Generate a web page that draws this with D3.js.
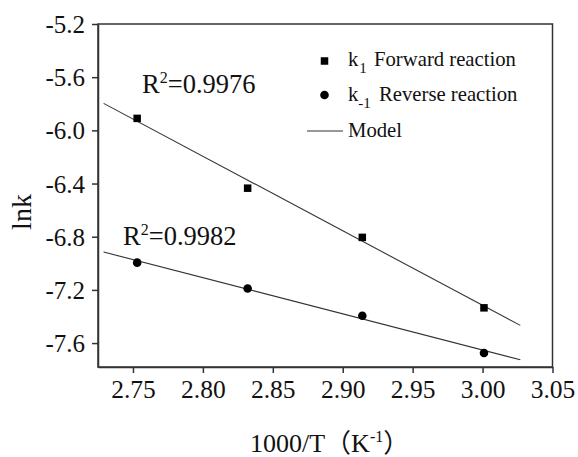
<!DOCTYPE html>
<html>
<head>
<meta charset="utf-8">
<script src="https://cdn.jsdelivr.net/npm/d3@7"></script>
<style>
  html, body { margin: 0; padding: 0; background: #fff; }
  svg { display: block; }
</style>
</head>
<body>
<svg id="chart" width="578" height="457"></svg>
<script>
// ---- data ----
const xValues = [2.753, 2.832, 2.914, 3.001];
const forwardLnk = [-5.91, -6.435, -6.805, -7.335];
const reverseLnk = [-6.995, -7.19, -7.395, -7.675];
const fitX = [2.729, 3.027];
const forwardFit = [-5.797, -7.467];
const reverseFit = [-6.915, -7.726];
const xTicks = [2.75, 2.80, 2.85, 2.90, 2.95, 3.00, 3.05];
const yTicks = [-5.2, -5.6, -6.0, -6.4, -6.8, -7.2, -7.6];
const legendLabels = ["Forward reaction", "Reverse reaction", "Model"];
const r2Labels = ["0.9976", "0.9982"];

// ---- layout ----
const FONT = "'Liberation Serif', 'Times New Roman', Times, 'Noto Sans CJK SC', serif";
const svg = d3.select("#chart").style("font-family", FONT);
const plotL = 98, plotR = 552.5, plotT = 24, plotB = 367;
const x = d3.scaleLinear().domain([2.725, 3.05]).range([plotL, plotR]);
const y = d3.scaleLinear().domain([-7.78, -5.2]).range([plotB, plotT]);
const axisColor = "#333";

// frame
svg.append("rect")
  .attr("x", plotL).attr("y", plotT)
  .attr("width", plotR - plotL).attr("height", plotB - plotT)
  .attr("fill", "none").attr("stroke", axisColor).attr("stroke-width", 1.5);

// x axis
const xAxis = svg.append("g")
  .attr("transform", `translate(0,${plotB})`)
  .call(d3.axisBottom(x).tickValues(xTicks).tickSize(6).tickSizeOuter(0)
        .tickFormat(d => d.toFixed(2)));
xAxis.attr("font-family", FONT).attr("font-size", 25);
xAxis.select(".domain").attr("stroke", axisColor).attr("stroke-width", 1.5);
xAxis.selectAll(".tick line").attr("stroke", axisColor).attr("stroke-width", 1.5);
xAxis.selectAll(".tick text")
  .attr("y", 31).attr("dy", null)
  .attr("fill", "#111")
  .style("font-family", FONT)
  .style("font-size", "25.5px");

// y axis
const yAxis = svg.append("g")
  .attr("transform", `translate(${plotL},0)`)
  .call(d3.axisLeft(y).tickValues(yTicks).tickSize(6).tickSizeOuter(0)
        .tickFormat(d => d.toFixed(1).replace("\u2212", "-")));
yAxis.attr("font-family", FONT).attr("font-size", 25);
yAxis.select(".domain").attr("stroke", axisColor).attr("stroke-width", 1.5);
yAxis.selectAll(".tick line").attr("stroke", axisColor).attr("stroke-width", 1.5);
yAxis.selectAll(".tick text")
  .attr("x", -13).attr("dy", "0.34em")
  .attr("fill", "#111")
  .style("font-family", FONT)
  .style("font-size", "25px");

// fit lines
const line = d3.line().x(d => x(d[0])).y(d => y(d[1]));
[forwardFit, reverseFit].forEach(fit => {
  svg.append("path")
    .datum(fitX.map((v, i) => [v, fit[i]]))
    .attr("d", line)
    .attr("fill", "none")
    .attr("stroke", "#333")
    .attr("stroke-width", 1.1);
});

// points
const sq = 7.5;
svg.append("g").selectAll("rect")
  .data(xValues.map((v, i) => [v, forwardLnk[i]]))
  .join("rect")
  .attr("x", d => x(d[0]) - sq / 2).attr("y", d => y(d[1]) - sq / 2)
  .attr("width", sq).attr("height", sq).attr("fill", "#000");
svg.append("g").selectAll("circle")
  .data(xValues.map((v, i) => [v, reverseLnk[i]]))
  .join("circle")
  .attr("cx", d => x(d[0])).attr("cy", d => y(d[1]))
  .attr("r", 4.3).attr("fill", "#000");

function txt(xp, yp, size) {
  return svg.append("text").attr("x", xp).attr("y", yp)
    .style("font-family", FONT).style("font-size", size + "px").attr("fill", "#111");
}

// R^2 annotations
function r2(xp, yp, val) {
  const t = txt(xp, yp, 26.5);
  t.append("tspan").text("R");
  t.append("tspan").attr("dy", -10).style("font-size", "16px").text("2");
  t.append("tspan").attr("dy", 10).text("=" + val);
}
r2(142, 93, r2Labels[0]);
r2(123, 245, r2Labels[1]);

// legend
svg.append("rect").attr("x", 324.5 - sq / 2).attr("y", 61 - sq / 2)
  .attr("width", sq).attr("height", sq).attr("fill", "#000");
svg.append("circle").attr("cx", 324.5).attr("cy", 95).attr("r", 4.3).attr("fill", "#000");
svg.append("line").attr("x1", 307).attr("x2", 343).attr("y1", 131).attr("y2", 131)
  .attr("stroke", "#333").attr("stroke-width", 1.1);

const l1 = txt(348, 66, 20.7);
l1.append("tspan").text("k");
l1.append("tspan").attr("dy", 7).attr("dx", 1).style("font-size", "15px").text("1");
l1.append("tspan").attr("dy", -7).attr("dx", 2).text(" " + legendLabels[0]);

const l2 = txt(348, 101, 20.7);
l2.append("tspan").text("k");
l2.append("tspan").attr("dy", 7).attr("dx", 0).style("font-size", "15px").text("-1");
l2.append("tspan").attr("dy", -7).attr("dx", 3).text(" " + legendLabels[1]);

txt(348, 137, 20.7).text(legendLabels[2]);

// axis titles
txt(0, 0, 28)
  .attr("x", null).attr("y", null)
  .attr("transform", "translate(31,212) rotate(-90)")
  .attr("text-anchor", "middle")
  .text("lnk");

const xt = txt(250, 452, 26);
xt.append("tspan").text("1000/T\uFF08K");
xt.append("tspan").attr("dy", -10).style("font-size", "16px").text("-1");
xt.append("tspan").attr("dy", 10).text("\uFF09");
</script>
</body>
</html>
